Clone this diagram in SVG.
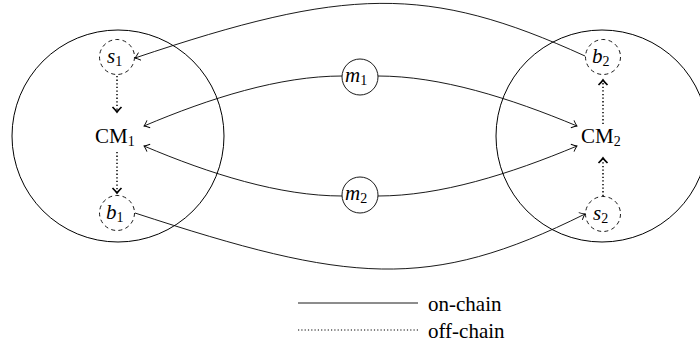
<svg xmlns="http://www.w3.org/2000/svg" width="700" height="351" viewBox="0 0 700 351">
<defs>
<style>
.big{fill:none;stroke:#000;stroke-width:1}
.dash{fill:#fff;stroke:#000;stroke-width:0.9;stroke-dasharray:4 3.3}
.msg{fill:#fff;stroke:#000;stroke-width:0.9}
.con{fill:none;stroke:#000;stroke-width:0.9}
.dot{fill:none;stroke:#000;stroke-width:1.5;stroke-dasharray:1.3 2.3}
.t{font-family:"Liberation Serif","DejaVu Serif",serif;font-size:21px;fill:#000}
.i{font-style:italic}
.s{font-size:14px;font-style:normal}
</style>
<marker id="ar" viewBox="-6 -5 8 10" refX="0" refY="0" markerWidth="8" markerHeight="10" markerUnits="userSpaceOnUse" orient="auto">
<path d="M-5,-4 Q-1.5,-0.8 0,0 Q-1.5,0.8 -5,4" fill="none" stroke="#000" stroke-width="0.9"/>
</marker>
<marker id="ad" viewBox="-7 -6 9 12" refX="0" refY="0" markerWidth="9" markerHeight="12" markerUnits="userSpaceOnUse" orient="auto">
<path d="M-5,-4.5 Q-1.5,-1 0,0 Q-1.5,1 -5,4.5" fill="none" stroke="#000" stroke-width="1.7"/>
</marker>
</defs>
<g id="chain1"><circle class="big" cx="118" cy="136" r="106"/></g>
<g id="chain2"><circle class="big" cx="602" cy="136" r="106"/></g>
<g id="connectors">
<path class="con" d="M585,56 C427,-16 346,-13 135,58" marker-end="url(#ar)"/>
<path class="con" d="M135,213 C349,283 428,292 585,214" marker-end="url(#ar)"/>
<path class="con" d="M342,76 C280,76 210,98 144,126" marker-end="url(#ar)"/>
<path class="con" d="M378,76 C440,76 510,98 577,126" marker-end="url(#ar)"/>
<path class="con" d="M342,196 C280,196 210,174 144,146" marker-end="url(#ar)"/>
<path class="con" d="M378,196 C440,196 510,174 577,146" marker-end="url(#ar)"/>
<path class="dot" d="M117,76 V112" marker-end="url(#ad)"/>
<path class="dot" d="M117,152 V193" marker-end="url(#ad)"/>
<path class="dot" d="M603,124 V80" marker-end="url(#ad)"/>
<path class="dot" d="M603,196 V158" marker-end="url(#ad)"/>
</g>
<g id="s1"><circle class="dash" cx="117" cy="57" r="17.5"/><text class="t i" x="107" y="63">s<tspan class="s" dy="3">1</tspan></text></g>
<g id="b1"><circle class="dash" cx="117" cy="213" r="17.5"/><text class="t i" x="106" y="219">b<tspan class="s" dy="3">1</tspan></text></g>
<g id="b2"><circle class="dash" cx="603" cy="57" r="17.5"/><text class="t i" x="592" y="63">b<tspan class="s" dy="3">2</tspan></text></g>
<g id="s2"><circle class="dash" cx="603" cy="214" r="17.5"/><text class="t i" x="593" y="220">s<tspan class="s" dy="3">2</tspan></text></g>
<g id="CM1"><text class="t" x="95" y="143">CM<tspan class="s" dy="3">1</tspan></text></g>
<g id="CM2"><text class="t" x="581" y="143">CM<tspan class="s" dy="3">2</tspan></text></g>
<g id="m1"><circle class="msg" cx="360" cy="77" r="18"/><text class="t i" x="345" y="82">m<tspan class="s" dy="3">1</tspan></text></g>
<g id="m2"><circle class="msg" cx="360" cy="195" r="18"/><text class="t i" x="345" y="200">m<tspan class="s" dy="3">2</tspan></text></g>
<g id="legend">
<line x1="298" y1="303" x2="418" y2="303" stroke="#000" stroke-width="0.9"/>
<text class="t" x="428" y="311">on-chain</text>
<line x1="298" y1="330" x2="418" y2="330" stroke="#000" stroke-width="1.2" stroke-dasharray="1.2 2.1"/>
<text class="t" x="428" y="338">off-chain</text>
</g>
</svg>
